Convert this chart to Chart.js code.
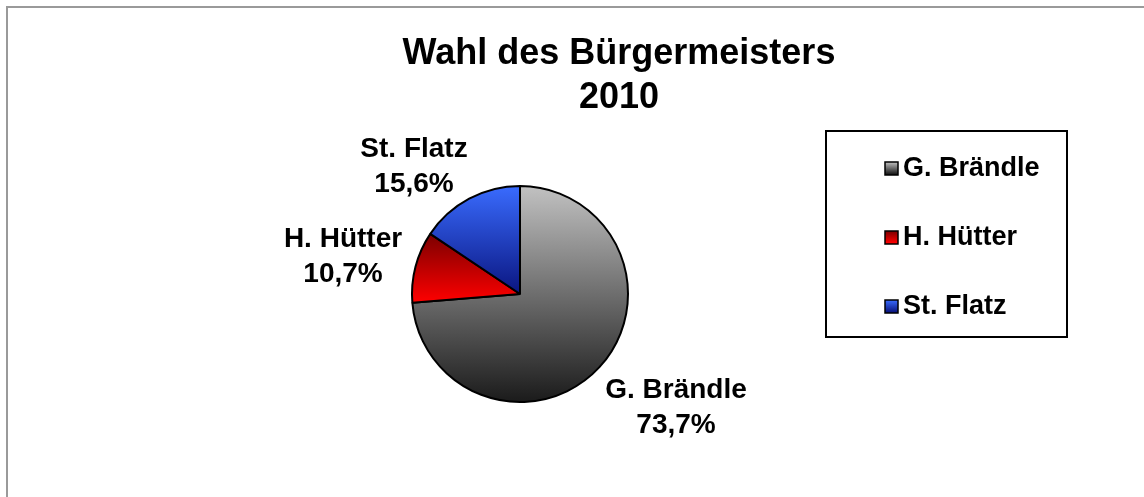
<!DOCTYPE html>
<html>
<head>
<meta charset="utf-8">
<script src="https://cdn.jsdelivr.net/npm/chart.js@4/dist/chart.umd.min.js"></script>
<style>
  html, body { margin: 0; padding: 0; background: #fff; }
  #graph { width: 1144px; height: 497px; }
</style>
</head>
<body>
<div id="graph"><canvas id="chartCanvas" width="1144" height="497"></canvas></div>
<script>
// Données
const titre = ['Wahl des Bürgermeisters', '2010'];
const candidats = ['G. Brändle', 'H. Hütter', 'St. Flatz'];
const pourcentages = [73.7, 10.7, 15.6];
const etiquettes = ['73,7%', '10,7%', '15,6%'];

// Couleurs des dégradés (haut -> bas)
const degrades = [
  ['#c2c2c2', '#1a1a1a'],
  ['#7a0000', '#ff0000'],
  ['#3a6cff', '#0a1580']
];

// Etendue verticale d'une part (centre + arc)
function limitesPart(cy, r, debut, fin) {
  let min = cy, max = cy;
  for (let i = 0; i <= 60; i++) {
    const a = debut + (fin - debut) * i / 60;
    const y = cy + r * Math.sin(a);
    min = Math.min(min, y);
    max = Math.max(max, y);
  }
  return [min, max];
}

function couleurPart(context) {
  const chart = context.chart;
  const area = chart.chartArea;
  const i = context.dataIndex;
  if (!area) return degrades[i][0];
  const cx = (area.left + area.right) / 2;
  const cy = (area.top + area.bottom) / 2;
  const r = Math.min(area.width, area.height) / 2;
  const total = pourcentages.reduce((a, b) => a + b, 0);
  let cumul = 0;
  for (let k = 0; k < i; k++) cumul += pourcentages[k];
  const debut = -Math.PI / 2 + cumul / total * 2 * Math.PI;
  const fin = debut + pourcentages[i] / total * 2 * Math.PI;
  const [y0, y1] = limitesPart(cy, r, debut, fin);
  const g = chart.ctx.createLinearGradient(0, y0, 0, y1);
  g.addColorStop(0, degrades[i][0]);
  g.addColorStop(1, degrades[i][1]);
  return g;
}

// Position des étiquettes (centre du texte, ligne de base de la 1re ligne)
const posEtiquettes = [[676, 398], [343, 247], [414, 157]];

// Plugin : cadre, titre, étiquettes et légende
const decor = {
  id: 'decor',
  beforeDraw(chart) {
    const ctx = chart.ctx;
    ctx.save();
    ctx.fillStyle = '#fff';
    ctx.fillRect(0, 0, chart.width, chart.height);
    ctx.strokeStyle = '#9a9a9a';
    ctx.lineWidth = 2;
    ctx.beginPath();
    ctx.moveTo(7, chart.height);
    ctx.lineTo(7, 7);
    ctx.lineTo(chart.width, 7);
    ctx.stroke();
    ctx.restore();
  },
  afterDraw(chart) {
    const ctx = chart.ctx;
    ctx.save();
    ctx.fillStyle = '#000';
    ctx.textAlign = 'center';
    ctx.textBaseline = 'alphabetic';

    // Titre
    ctx.font = 'bold 36px "Liberation Sans", Arial, sans-serif';
    ctx.fillText(titre[0], 619, 64);
    ctx.fillText(titre[1], 619, 108);

    // Etiquettes des parts
    ctx.font = 'bold 28px "Liberation Sans", Arial, sans-serif';
    candidats.forEach((nom, i) => {
      const [x, y] = posEtiquettes[i];
      ctx.fillText(nom, x, y);
      ctx.fillText(etiquettes[i], x, y + 35);
    });

    // Légende
    ctx.strokeStyle = '#000';
    ctx.lineWidth = 2;
    ctx.strokeRect(826, 131, 241, 206);
    ctx.textAlign = 'left';
    ctx.textBaseline = 'middle';
    ctx.font = 'bold 27px "Liberation Sans", Arial, sans-serif';
    candidats.forEach((nom, i) => {
      const y = 168 + i * 69;
      const g = ctx.createLinearGradient(0, y - 6, 0, y + 6);
      g.addColorStop(0, degrades[i][0]);
      g.addColorStop(1, degrades[i][1]);
      ctx.fillStyle = g;
      ctx.fillRect(885, y - 6, 13, 13);
      ctx.lineWidth = 1.5;
      ctx.strokeRect(885, y - 6, 13, 13);
      ctx.fillStyle = '#000';
      ctx.fillText(nom, 903, y + 1);
    });
    ctx.restore();
  }
};

var canvas = document.getElementById('chartCanvas');
var chart = new Chart(canvas, {
  type: 'pie',
  data: {
    labels: candidats,
    datasets: [{
      data: pourcentages,
      backgroundColor: couleurPart,
      borderColor: '#000',
      borderWidth: 2
    }]
  },
  options: {
    responsive: false,
    animation: false,
    layout: { padding: { left: 411, right: 515, top: 185, bottom: 94 } },
    plugins: {
      legend: { display: false },
      title: { display: false },
      tooltip: { enabled: false }
    }
  },
  plugins: [decor]
});
</script>
</body>
</html>
